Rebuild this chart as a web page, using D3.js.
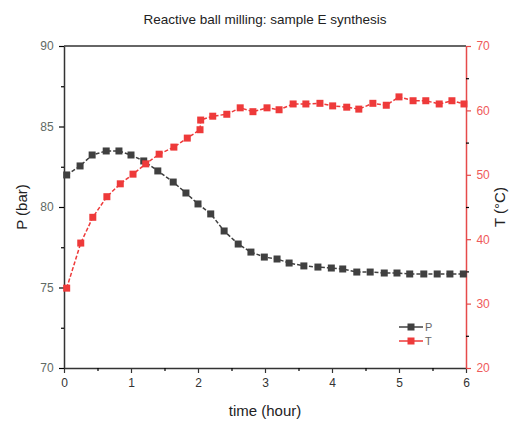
<!DOCTYPE html>
<html>
<head>
<meta charset="utf-8">
<script src="https://cdn.jsdelivr.net/npm/d3@7"></script>
<style>
  html, body { margin: 0; padding: 0; background: #fff; }
  text { font-family: "Liberation Sans", Arial, sans-serif; }
</style>
</head>
<body>
<svg id="chart" width="515" height="423"></svg>
<script>
// ---- data ----
const titleText = "Reactive ball milling: sample E synthesis";
const xLabel = "time (hour)";
const yLeftLabel = "P (bar)";
const yRightLabel = "T (\u00B0C)";

const timeP = [0.04, 0.24, 0.42, 0.63, 0.82, 1.00, 1.19, 1.40, 1.63, 1.82, 2.00,
  2.19, 2.39, 2.60, 2.79, 2.99, 3.18, 3.36, 3.58, 3.79, 3.99,
  4.16, 4.37, 4.57, 4.78, 4.97, 5.16, 5.37, 5.57, 5.76, 5.96];
const valuesP = [81.99, 82.55, 83.23, 83.48, 83.48, 83.23, 82.86, 82.24, 81.55, 80.87, 80.19,
  79.57, 78.51, 77.70, 77.20, 76.89, 76.77, 76.52, 76.34, 76.27, 76.21,
  76.15, 75.96, 75.96, 75.90, 75.90, 75.84, 75.84, 75.84, 75.84, 75.84];

const timeT = [0.04, 0.25, 0.43, 0.64, 0.84, 1.03, 1.22, 1.42, 1.64, 1.84, 2.03, 2.04,
  2.22, 2.43, 2.63, 2.82, 3.03, 3.21, 3.42, 3.61, 3.82,
  4.01, 4.22, 4.40, 4.61, 4.81, 5.00, 5.21, 5.40, 5.60, 5.79, 5.97];
const valuesT = [32.4, 39.4, 43.4, 46.6, 48.6, 50.1, 51.7, 53.2, 54.3, 55.7, 57.0, 58.5,
  59.1, 59.4, 60.4, 59.8, 60.4, 60.1, 61.0, 61.0, 61.1,
  60.7, 60.5, 60.2, 61.1, 60.8, 62.1, 61.5, 61.5, 61.0, 61.5, 61.0];

const xTicks = [0, 1, 2, 3, 4, 5, 6];
const xMinorTicks = [0.5, 1.5, 2.5, 3.5, 4.5, 5.5];
const pTicks = [70, 75, 80, 85, 90];
const pMinorTicks = [72.5, 77.5, 82.5, 87.5];
const tTicks = [20, 30, 40, 50, 60, 70];
const tMinorTicks = [25, 35, 45, 55, 65];
const legendItems = ["P", "T"];

// ---- layout ----
const svg = d3.select("#chart");
const L = 64, R = 466, T = 46, B = 368;
const colP = "#404040", colT = "#ee3a3a", colAxisR = "#e64a4a", colTickR = "#ef5a5a";

const x = d3.scaleLinear().domain([0, 6]).range([L, R]);
const yP = d3.scaleLinear().domain([70, 90]).range([B, T]);
const yT = d3.scaleLinear().domain([20, 70]).range([B, T]);

// frame top
svg.append("line").attr("x1", L).attr("x2", R).attr("y1", T).attr("y2", T)
  .attr("stroke", "#333").attr("stroke-width", 1.5);

// bottom axis
const gx = svg.append("g").attr("transform", `translate(0,${B})`)
  .call(d3.axisBottom(x).tickValues(xTicks).tickFormat(d3.format("d")).tickSize(5).tickSizeOuter(0));
svg.append("g").attr("transform", `translate(0,${B})`)
  .call(d3.axisBottom(x).tickValues(xMinorTicks).tickFormat("").tickSize(3).tickSizeOuter(0))
  .call(g => g.select(".domain").remove());

// left axis
const gl = svg.append("g").attr("transform", `translate(${L},0)`)
  .call(d3.axisLeft(yP).tickValues(pTicks).tickFormat(d3.format("d")).tickSize(5).tickSizeOuter(0));
svg.append("g").attr("transform", `translate(${L},0)`)
  .call(d3.axisLeft(yP).tickValues(pMinorTicks).tickFormat("").tickSize(3).tickSizeOuter(0))
  .call(g => g.select(".domain").remove());

// right axis
const gr = svg.append("g").attr("transform", `translate(${R},0)`)
  .call(d3.axisRight(yT).tickValues(tTicks).tickFormat(d3.format("d")).tickSize(5).tickSizeOuter(0));
svg.append("g").attr("transform", `translate(${R},0)`)
  .call(d3.axisRight(yT).tickValues(tMinorTicks).tickFormat("").tickSize(3).tickSizeOuter(0))
  .call(g => g.select(".domain").remove());

svg.selectAll("g").selectAll(".tick text")
  .style("font-family", "'Liberation Sans', Arial, sans-serif").style("font-size", "12px");

gx.select(".domain").attr("stroke", "#333").attr("stroke-width", 1.5);
gx.selectAll(".tick line").attr("stroke", "#333");
gx.selectAll(".tick text").attr("fill", "#333").attr("dy", "0.9em");
gl.select(".domain").attr("stroke", "#333").attr("stroke-width", 1.5);
gl.selectAll(".tick text").attr("fill", "#5f6a64").attr("dx", "-0.2em");
gr.select(".domain").attr("stroke", colAxisR).attr("stroke-width", 1.5);
gr.selectAll(".tick line").attr("stroke", colAxisR);
gr.selectAll(".tick text").attr("fill", colTickR).attr("dx", "0.2em");
svg.selectAll("g .tick line").attr("stroke-width", 1.2);

// ---- series ----
const ms = 7;
function drawSeries(times, vals, ys, col) {
  const line = d3.line().x((d, i) => x(times[i])).y(d => ys(d));
  svg.append("path").datum(vals).attr("d", line)
    .attr("fill", "none").attr("stroke", col).attr("stroke-width", 1.5)
    .attr("stroke-dasharray", "4,2");
  svg.append("g").selectAll("rect").data(vals).join("rect")
    .attr("x", (d, i) => x(times[i]) - ms / 2)
    .attr("y", d => ys(d) - ms / 2)
    .attr("width", ms).attr("height", ms)
    .attr("fill", col);
}
drawSeries(timeP, valuesP, yP, colP);
drawSeries(timeT, valuesT, yT, colT);

// ---- titles ----
svg.append("text").attr("x", 265).attr("y", 24).attr("text-anchor", "middle")
  .attr("font-size", "13.5px").attr("fill", "#222").text(titleText);
svg.append("text").attr("x", 265).attr("y", 416).attr("text-anchor", "middle")
  .attr("font-size", "15px").attr("fill", "#222").text(xLabel);
svg.append("text").attr("transform", `translate(27,${(T + B) / 2}) rotate(-90)`)
  .attr("text-anchor", "middle").attr("font-size", "15px").attr("fill", "#222").text(yLeftLabel);
svg.append("text").attr("transform", `translate(505,${(T + B) / 2}) rotate(-90)`)
  .attr("text-anchor", "middle").attr("font-size", "15px").attr("fill", "#222").text(yRightLabel);

// ---- legend ----
const legCols = [colP, colT];
const leg = svg.append("g");
legendItems.forEach((name, i) => {
  const yy = 327 + i * 14;
  leg.append("line").attr("x1", 399).attr("x2", 423).attr("y1", yy).attr("y2", yy)
    .attr("stroke", legCols[i]).attr("stroke-width", 1.5);
  leg.append("rect").attr("x", 411 - 3.5).attr("y", yy - 3.5).attr("width", 7).attr("height", 7)
    .attr("fill", legCols[i]);
  leg.append("text").attr("x", 425).attr("y", yy + 4).attr("font-size", "11px")
    .attr("fill", "#666").text(name);
});
</script>
</body>
</html>
